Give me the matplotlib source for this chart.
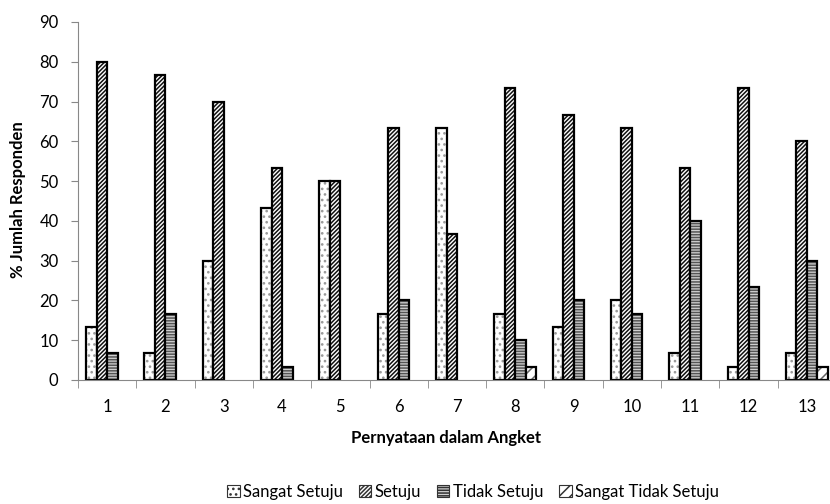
import numpy as np
import matplotlib
matplotlib.use("Agg")
import matplotlib.pyplot as plt
from matplotlib.patches import Patch

plt.rcParams['font.family'] = ['Lato', 'DejaVu Sans']
plt.rcParams['hatch.linewidth'] = 1.1

categories = ['1', '2', '3', '4', '5', '6', '7', '8', '9', '10', '11', '12', '13']
sangat_setuju = [13.3, 6.7, 30, 43.3, 50, 16.7, 63.3, 16.7, 13.3, 20, 6.7, 3.3, 6.7]
setuju = [80, 76.7, 70, 53.3, 50, 63.3, 36.7, 73.3, 66.7, 63.3, 53.3, 73.3, 60]
tidak_setuju = [6.7, 16.7, 0, 3.3, 0, 20, 0, 10, 20, 16.7, 40, 23.3, 30]
sangat_tidak_setuju = [0, 0, 0, 0, 0, 0, 0, 3.3, 0, 0, 0, 0, 3.3]

series = [
    ('Sangat Setuju', sangat_setuju, 'white', '...', '#9a9a9a'),
    ('Setuju', setuju, 'white', '////////', '#111111'),
    ('Tidak Setuju', tidak_setuju, '#d0d0d0', '------', '#555555'),
    ('Sangat Tidak Setuju', sangat_tidak_setuju, 'white', '///', '#666666'),
]

fig = plt.figure(figsize=(8.3, 5.04), dpi=100)
ax = fig.add_axes([78/830, 1-380/504, 758/830, 358/504])

x = np.arange(len(categories))
w = 0.18
handles = []
for i, (name, vals, fc, hatch, hc) in enumerate(series):
    vals = np.array(vals, dtype=float)
    keep = vals > 0
    pos = (x + (i - 1.5) * w)[keep]
    ax.bar(pos, vals[keep], w, color=fc, hatch=hatch, edgecolor=hc, linewidth=0)
    ax.bar(pos, vals[keep], w, fill=False, edgecolor='black', linewidth=1.6)
    handles.append(Patch(facecolor=fc, hatch=hatch, edgecolor='#333333', linewidth=0.8, label=name))

ax.set_xlim(-0.5, len(categories) - 0.5)
ax.set_ylim(0, 90)
ax.set_yticks(range(0, 91, 10))
ax.set_xticks(x)
ax.set_xticklabels(categories)
ax.set_xticks(np.arange(-0.5, len(categories), 1), minor=True)
ax.tick_params(axis='x', which='major', length=0, pad=14, labelsize=12)
ax.tick_params(axis='x', which='minor', length=6, color='#888888')
ax.tick_params(axis='y', length=5, color='#888888', labelsize=12, pad=9)

for s in ['top', 'right']:
    ax.spines[s].set_visible(False)
for s in ['left', 'bottom']:
    ax.spines[s].set_color('#888888')

fig.text(446/830, 1-438/504, 'Pernyataan dalam Angket', fontsize=12, fontweight='bold',
         ha='center', va='center')
fig.text(18/830, 1-200/504, '% Jumlah Responden', fontsize=12, fontweight='bold',
         ha='center', va='center', rotation=90)

fig.legend(handles=handles, loc='center', bbox_to_anchor=(473/830, 1-492/504),
           ncol=4, frameon=False, fontsize=12, handlelength=0.75, handleheight=0.75,
           handletextpad=0.2, columnspacing=0.95)

fig.savefig('out.png', dpi=100)
